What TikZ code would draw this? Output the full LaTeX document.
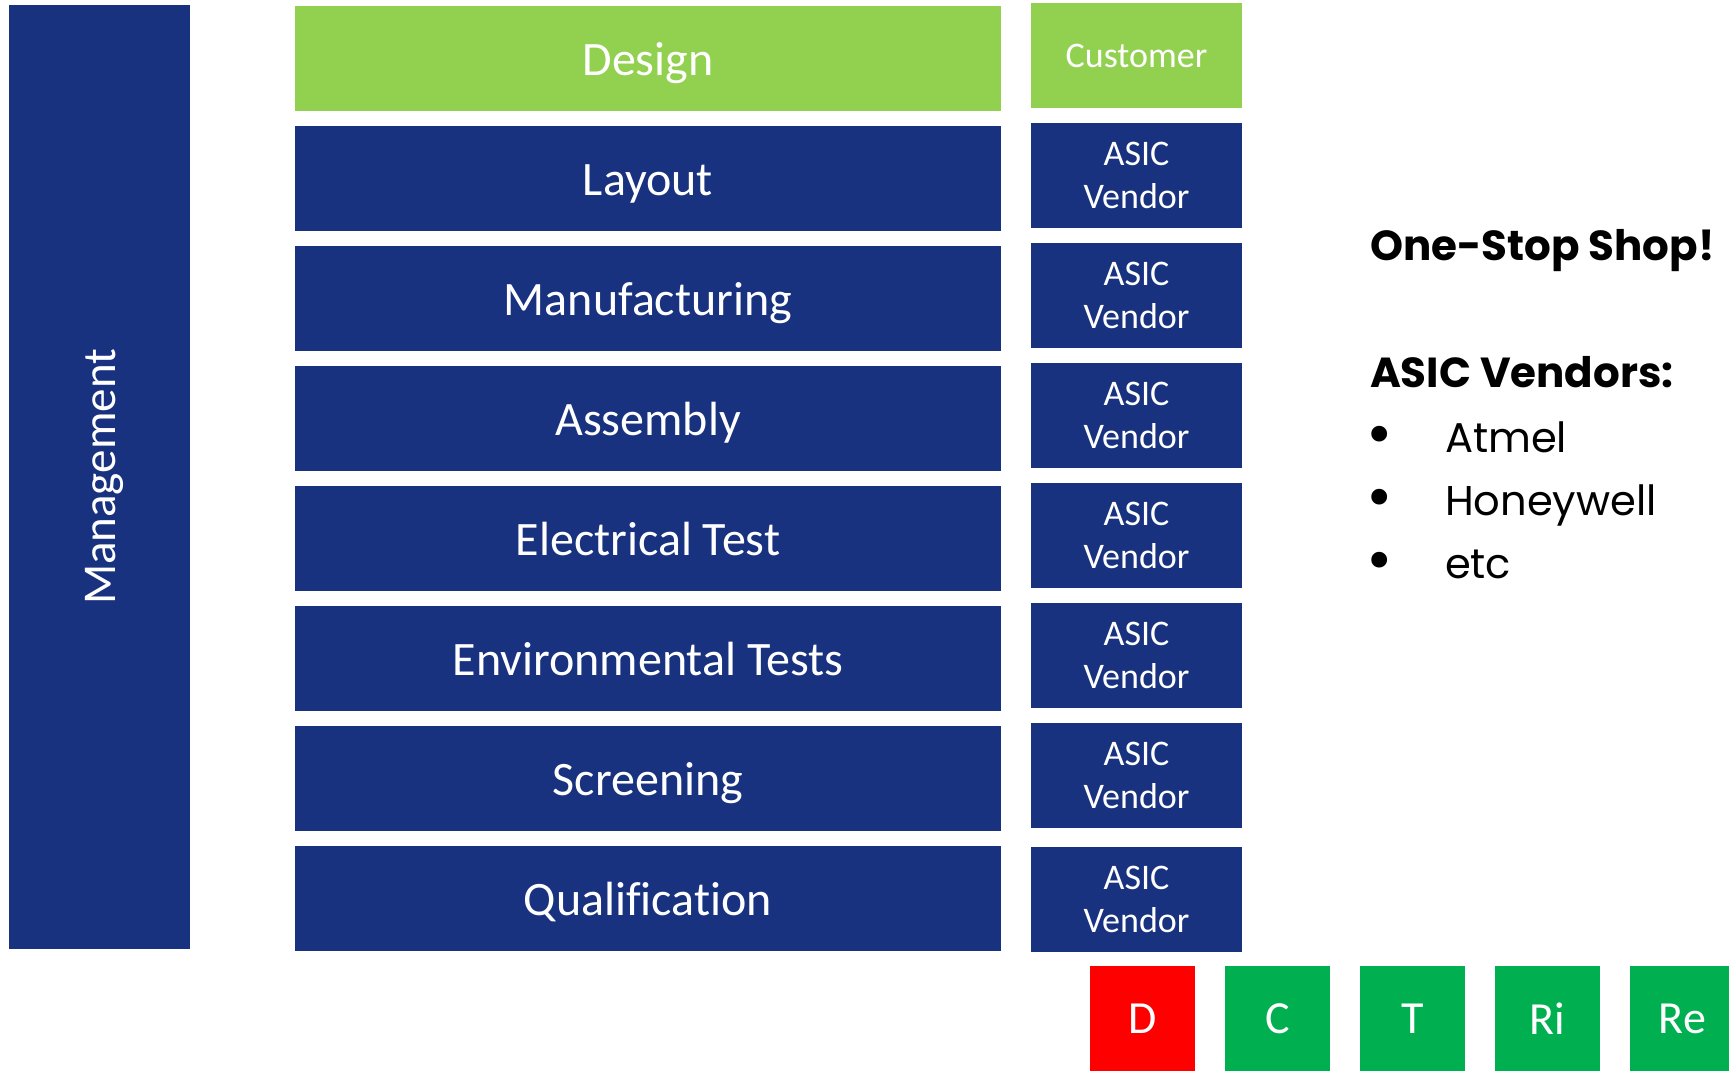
\documentclass[tikz,border=0pt]{standalone}
\usepackage{fontspec}
\setmainfont{Carlito}[Ligatures=NoCommon]
\newfontfamily\geofont{Poppins}
\usetikzlibrary{positioning}
\definecolor{navy}{RGB}{25,50,128}
\definecolor{leafgreen}{RGB}{146,208,80}
\definecolor{okgreen}{RGB}{0,176,80}
\definecolor{stopred}{RGB}{255,0,0}

\begin{document}
\begin{tikzpicture}[x=0.5pt,y=-0.5pt,node distance=7.5pt and 15pt]
  \tikzstyle{every node}=[inner sep=0pt,outer sep=0pt]
  \tikzstyle{row}=[fill=navy,text=white,minimum width=353pt,minimum height=52.5pt,
    text height=16.5pt,text depth=0pt,font=\fontsize{24}{28}\selectfont]
  \tikzstyle{vendor}=[fill=navy,text=white,minimum width=105.5pt,minimum height=52.5pt,
    align=center,font=\fontsize{18}{21.5}\selectfont]
  \tikzstyle{letter}=[fill=okgreen,text=white,minimum size=52.5pt,font=\fontsize{23}{27}\selectfont]
  \tikzstyle{note}=[anchor=base west,font=\geofont\fontsize{20.8}{24}\selectfont]
  \tikzstyle{dot}=[anchor=base west,font=\geofont\fontsize{32}{36}\selectfont]
  \tikzstyle{heading}=[anchor=base west,font=\geofont\bfseries\fontsize{21}{24}\selectfont]

  \useasboundingbox (0,0) rectangle (1729,1071);

  \node[fill=navy,text=white,rotate=90,minimum width=472pt,minimum height=90.5pt,
    text height=16pt,text depth=0pt,font=\fontsize{23.5}{27}\selectfont] (M) at (99.5,477) {Management};

  \node[row,fill=leafgreen] (Des) at (648,58.5) {Design};
  \node[row] (Lay) [below=of Des] {Layout};
  \node[row] (Man) [below=of Lay] {Manufacturing};
  \node[row] (Asm) [below=of Man] {Assembly};
  \node[row] (Elt) [below=of Asm] {Electrical Test};
  \node[row] (Env) [below=of Elt] {Environmental Tests};
  \node[row] (Scr) [below=of Env] {Screening};
  \node[row] (Qua) [below=of Scr] {Qualification};

  \node[vendor,fill=leafgreen] (Cus) [right=of Des,yshift=1.5pt] {Customer};
  \node[vendor] (V1) [right=of Lay,yshift=1.5pt] {ASIC\\Vendor};
  \node[vendor] (V2) [right=of Man,yshift=1.5pt] {ASIC\\Vendor};
  \node[vendor] (V3) [right=of Asm,yshift=1.5pt] {ASIC\\Vendor};
  \node[vendor] (V4) [right=of Elt,yshift=1.5pt] {ASIC\\Vendor};
  \node[vendor] (V5) [right=of Env,yshift=1.5pt] {ASIC\\Vendor};
  \node[vendor] (V6) [right=of Scr,yshift=1.5pt] {ASIC\\Vendor};
  \node[vendor] (V7) [right=of Qua,yshift=-0.5pt] {ASIC\\Vendor};

  \node[letter,fill=stopred] (D) at (1142.5,1018.5) {D};
  \node[letter] (C)  [right=of D] {C};
  \node[letter] (T)  [right=of C] {T};
  \node[letter] (Ri) [right=of T] {Ri};
  \node[letter] (Re) [right=of Ri] {Re};

  \node[heading] (shop) at (1370,260) {One-Stop Shop!};
  \node[heading] (list) at (1370,387) {ASIC Vendors:};
  \node[dot] (b1) at (1366,455) {•};
  \node[note] (atmel) at (1445,452) {Atmel};
  \node[dot] (b2) at (1366,518) {•};
  \node[note] (honey) at (1445,515) {Honeywell};
  \node[dot] (b3) at (1366,581) {•};
  \node[note] (etc) at (1445,578) {etc};
\end{tikzpicture}
\end{document}
